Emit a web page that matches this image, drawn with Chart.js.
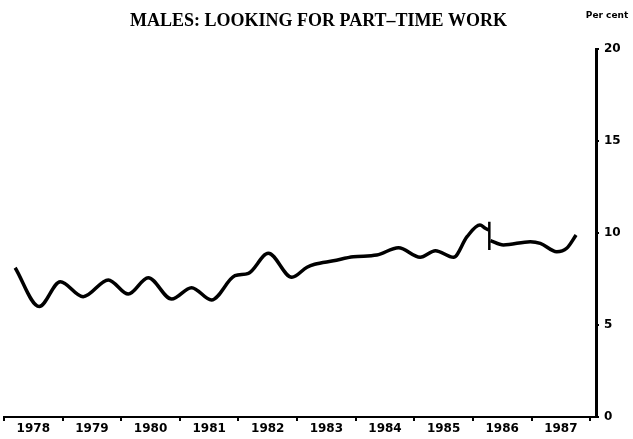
<!DOCTYPE html>
<html>
<head>
<meta charset="utf-8">
<script src="https://cdn.jsdelivr.net/npm/chart.js@4/dist/chart.umd.min.js"></script>
<style>
  html, body { margin: 0; padding: 0; background: #fff; }
  #wrap { width: 633px; height: 439px; position: relative; }
</style>
</head>
<body>
<div id="wrap"><canvas id="chart"></canvas></div>
<script>
// Tick labels
const yearLabels = ['1978', '1979', '1980', '1981', '1982', '1983', '1984', '1985', '1986', '1987'];
const yearTicks = [1978, 1979, 1980, 1981, 1982, 1983, 1984, 1985, 1986, 1987, 1988];
const percentTicks = [0, 5, 10, 15, 20];

// Series before the break (decimal year, per cent)
const beforeBreakX = [1978.19, 1978.60, 1978.96, 1979.35, 1979.78, 1980.12, 1980.46, 1980.86, 1981.20, 1981.54,
                      1981.94, 1982.17, 1982.51, 1982.91, 1983.17, 1983.30, 1983.62, 1983.96, 1984.36, 1984.73,
                      1985.10, 1985.36, 1985.67, 1985.90, 1986.12, 1986.21, 1986.27];
const beforeBreakY = [8.11, 6.00, 7.35, 6.54, 7.45, 6.68, 7.57, 6.41, 7.03, 6.36,
                      7.68, 7.81, 8.90, 7.59, 8.14, 8.30, 8.49, 8.71, 8.80, 9.20,
                      8.68, 9.04, 8.68, 9.80, 10.43, 10.26, 10.16];

// Series after the break
const afterBreakX = [1986.30, 1986.52, 1986.98, 1987.15, 1987.43, 1987.60, 1987.76];
const afterBreakY = [9.59, 9.35, 9.53, 9.44, 8.98, 9.17, 9.89];

// Vertical break marker
const breakX = [1986.28, 1986.28];
const breakY = [10.61, 9.08];

const toPoints = (xs, ys) => xs.map((x, i) => ({ x: x, y: ys[i] }));

const fontTicks = { family: 'DejaVu Sans', weight: 'bold', size: 12 };

// "Per cent" label top right
const perCentLabel = {
    id: 'perCentLabel',
    afterDraw(chart) {
        const ctx = chart.ctx;
        ctx.save();
        ctx.font = 'bold 9px "DejaVu Sans"';
        ctx.fillStyle = '#000';
        ctx.textAlign = 'center';
        ctx.textBaseline = 'middle';
        ctx.fillText('Per cent', 607, 16);
        ctx.restore();
    }
};

new Chart(document.getElementById('chart').getContext('2d'), {
    type: 'line',
    data: {
        datasets: [
            {
                data: toPoints(beforeBreakX, beforeBreakY),
                borderColor: '#000',
                borderWidth: 3.5,
                pointRadius: 0,
                cubicInterpolationMode: 'monotone',
                fill: false
            },
            {
                data: toPoints(afterBreakX, afterBreakY),
                borderColor: '#000',
                borderWidth: 3.5,
                pointRadius: 0,
                cubicInterpolationMode: 'monotone',
                fill: false
            },
            {
                data: toPoints(breakX, breakY),
                borderColor: '#000',
                borderWidth: 2.5,
                pointRadius: 0,
                tension: 0,
                fill: false
            }
        ]
    },
    options: {
        responsive: true,
        maintainAspectRatio: false,
        animation: false,
        layout: { padding: { left: 4, right: 0, top: 0, bottom: 0 } },
        plugins: {
            legend: { display: false },
            tooltip: { enabled: false },
            title: {
                display: true,
                text: 'MALES: LOOKING FOR PART\u2013TIME WORK',
                color: '#000',
                font: { family: 'Liberation Serif', weight: 'bold', size: 18 },
                padding: { top: 11, bottom: 16.4 }
            }
        },
        scales: {
            x: {
                type: 'linear',
                min: 1978,
                max: 1988.1,
                afterBuildTicks: (scale) => {
                    scale.ticks = yearTicks.map(v => ({ value: v }));
                },
                afterFit: (scale) => {
                    scale.height = 22;
                    scale.paddingLeft = 0;
                    scale.paddingRight = 0;
                },
                border: { color: '#000', width: 2 },
                grid: {
                    drawOnChartArea: false,
                    drawTicks: true,
                    tickLength: 4,
                    color: '#000',
                    lineWidth: 2
                },
                ticks: {
                    color: '#000',
                    font: fontTicks,
                    padding: 1,
                    maxRotation: 0,
                    autoSkip: false,
                    labelOffset: 29.3,
                    callback: (value, index) => yearLabels[index] || ''
                }
            },
            y: {
                position: 'right',
                min: 0,
                max: 20,
                afterBuildTicks: (scale) => {
                    scale.ticks = percentTicks.map(v => ({ value: v }));
                },
                afterFit: (scale) => {
                    scale.width = 37;
                },
                border: { color: '#000', width: 3 },
                grid: {
                    drawOnChartArea: false,
                    drawTicks: true,
                    tickLength: 3,
                    color: '#000',
                    lineWidth: 2
                },
                ticks: {
                    color: '#000',
                    font: fontTicks,
                    padding: 5,
                    callback: (value) => String(value)
                }
            }
        }
    },
    plugins: [perCentLabel]
});
</script>
</body>
</html>
